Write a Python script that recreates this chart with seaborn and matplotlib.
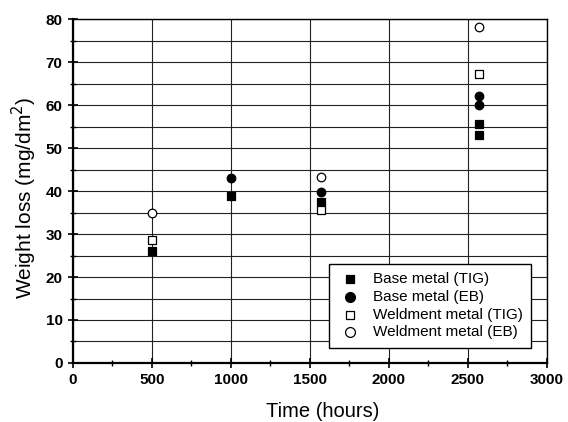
import numpy as np
import pandas as pd
import matplotlib
matplotlib.use('Agg')
import matplotlib.pyplot as plt
from matplotlib.ticker import MultipleLocator
import seaborn as sns

# weight loss readings (mg/dm2) vs exposure time (hours)
base_tig_time = [500, 1000, 1570, 2570, 2570]
base_tig_loss = [26.0, 38.8, 37.5, 55.7, 53.0]
base_eb_time = [1000, 1570, 2570, 2570]
base_eb_loss = [43.1, 39.9, 62.2, 60.0]
weld_tig_time = [500, 1570, 2570]
weld_tig_loss = [28.7, 35.6, 67.3]
weld_eb_time = [500, 1570, 2570]
weld_eb_loss = [35.0, 43.3, 78.3]

series_names = ['Base metal (TIG)', 'Base metal (EB)', 'Weldment metal (TIG)', 'Weldment metal (EB)']

sns.set_style('white')
plt.rcParams['font.family'] = ['Liberation Sans', 'DejaVu Sans']
plt.rcParams['text.color'] = 'black'
plt.rcParams['axes.labelcolor'] = 'black'

fig = plt.figure(figsize=(5.68, 4.22), dpi=100)
ax = fig.add_axes([0.1285, 0.140, 0.8345, 0.814])

sets = [
    (base_tig_time, base_tig_loss, 's', 'black', 30),
    (base_eb_time, base_eb_loss, 'o', 'black', 38),
    (weld_tig_time, weld_tig_loss, 's', 'white', 30),
    (weld_eb_time, weld_eb_loss, 'o', 'white', 38),
]
for (t, w, m, fc, sz), name in zip(sets, series_names):
    df = pd.DataFrame({'Time': t, 'Loss': w})
    sns.scatterplot(data=df, x='Time', y='Loss', marker=m, s=sz, color=fc,
                    edgecolor='black', linewidth=0.9, label=name, ax=ax, zorder=5)

ax.set_xlim(0, 3000)
ax.set_ylim(0, 80)
ax.xaxis.set_major_locator(MultipleLocator(500))
ax.xaxis.set_minor_locator(MultipleLocator(250))
ax.yaxis.set_major_locator(MultipleLocator(10))
ax.yaxis.set_minor_locator(MultipleLocator(5))

ax.grid(True, which='major', axis='x', color='#222222', linewidth=0.8)
ax.grid(True, which='both', axis='y', color='#222222', linewidth=0.8)
ax.set_axisbelow(True)

for side in ['left', 'bottom']:
    ax.spines[side].set_linewidth(1.6)
for side in ['top', 'right']:
    ax.spines[side].set_linewidth(1.0)
for sp in ax.spines.values():
    sp.set_color('black')

ax.tick_params(which='major', direction='inout', length=7, width=1.2, colors='black',
               labelsize=11, pad=4, bottom=True, left=True)
ax.tick_params(which='minor', direction='inout', length=5, width=1.0, colors='black',
               bottom=True, left=True)
for lab in ax.get_xticklabels() + ax.get_yticklabels():
    lab.set_fontweight('bold')

ax.set_xlabel('Time (hours)', fontsize=14.5, color='black')
ax.set_ylabel('Weight loss (mg/dm$^2$)', fontsize=15, color='black')
ax.xaxis.set_label_coords(0.527, -0.115)
ax.yaxis.set_label_coords(-0.072, 0.48)

leg = ax.legend(loc='lower right', bbox_to_anchor=(0.966, 0.044), borderaxespad=0,
                fontsize=11, frameon=True, fancybox=False, edgecolor='black', framealpha=1,
                labelspacing=0.25, handlelength=1.56, handletextpad=0.72, borderpad=0.55,
                markerscale=1.15)
leg.get_frame().set_linewidth(1.0)
for txt in leg.get_texts():
    txt.set_color('black')

fig.savefig('out.png', dpi=100)
